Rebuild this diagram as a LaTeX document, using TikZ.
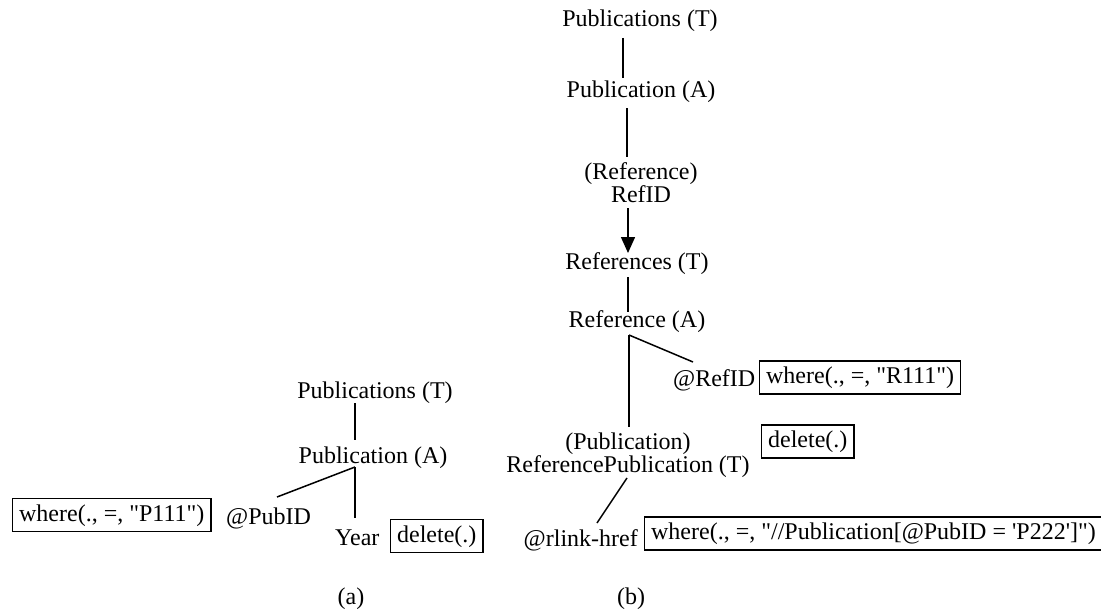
\documentclass[tikz,border=0pt]{standalone}
\usepackage{fontspec}
\setmainfont{Liberation Serif}[Ligatures=TeXOff]
\usetikzlibrary{arrows.meta}
\newcommand{\tfont}{\fontsize{24pt}{22pt}\selectfont}
\begin{document}
\begin{tikzpicture}[x=1pt,y=-1pt,
  lbl/.style={font=\tfont, inner sep=0pt},
  twoline/.style={font=\tfont, inner sep=0pt, align=center, anchor=north},
  opbox/.style={draw, line width=1.3pt, font=\tfont, inner xsep=6.5pt, inner ysep=0pt,
    text height=16.5pt, text depth=4.5pt, minimum height=33pt, anchor=west},
  conn/.style={line width=1.5pt},
  captxt/.style={font=\tfont, inner sep=0pt, anchor=base}]
\useasboundingbox (0,0) rectangle (1101,610);

% ---------- (a) ----------
\node[lbl, anchor=base] (aT) at (375,398) {Publications (T)};
\node[lbl, anchor=base] (aA) at (373,463) {Publication (A)};
\node[lbl, anchor=base west] (aPub) at (226,524) {@PubID};
\node[lbl, anchor=base west] (aYear) at (335,545) {Year};
\node[opbox] (aWhere) at (12,515) {where(., =, "P111")};
\node[opbox] (aDel) at (390,536) {delete(.)};
\node[captxt] (capa) at (351,604) {(a)};

\draw[conn] ([shift={(-20,5)}]aT.base) -- ([shift={(-18,-23)}]aA.base);
\coordinate (aJ) at ([shift={(-18,4)}]aA.base);
\draw[conn] (aJ) -- ([shift={(51,-27)}]aPub.base west);
\draw[conn] (aJ) -- ([shift={(20,-27)}]aYear.base west);

% ---------- (b) ----------
\node[lbl, anchor=base] (bT) at (640,27) {Publications (T)};
\node[lbl, anchor=base] (bA) at (641,98) {Publication (A)};
\node[twoline] (bRef) at (641,162) {(Reference)\\RefID};
\node[lbl, anchor=base] (bRT) at (637,269) {References (T)};
\node[lbl, anchor=base] (bRA) at (637,327) {Reference (A)};
\node[lbl, anchor=base west] (bRid) at (673,386) {@RefID};
\node[opbox] (bWhere) at (759,377.5) {where(., =, "R111")};
\node[twoline] (bRP) at (628,433) {(Publication)\\ReferencePublication (T)};
\node[opbox] (bDel) at (761,441.5) {delete(.)};
\node[lbl, anchor=base east] (bLink) at (638,546) {@rlink-href};
\node[opbox] (bLong) at (644,533.5) {where(., =, "//Publication[@PubID = 'P222']")};
\node[captxt] (capb) at (631,604) {(b)};

\draw[conn] ([shift={(-17,11)}]bT.base) -- ([shift={(-18,-20)}]bA.base);
\draw[conn] ([shift={(-14,10)}]bA.base) -- ([shift={(-14,-5)}]bRef.north);
\draw[conn, -{Triangle[length=16pt,width=14pt]}]
  ([shift={(-13,46)}]bRef.north) -- ([shift={(-9,-16)}]bRT.base);
\draw[conn] ([shift={(-9,8)}]bRT.base) -- ([shift={(-9,-15)}]bRA.base);
\coordinate (bJ) at ([shift={(-8,8)}]bRA.base);
\draw[conn] (bJ) -- ([shift={(20,-24)}]bRid.base west);
\draw[conn] (bJ) -- ([shift={(1,-6)}]bRP.north);
\draw[conn] ([shift={(-1,45)}]bRP.north) -- ([shift={(-41,-23)}]bLink.base east);
\end{tikzpicture}
\end{document}
